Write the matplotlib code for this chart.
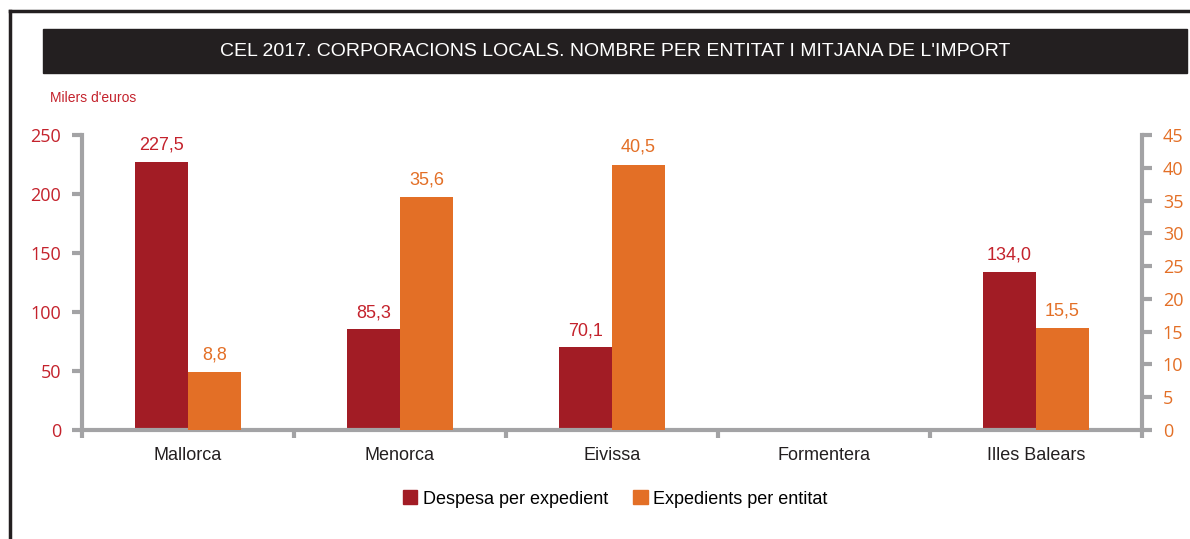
import numpy as np
import matplotlib
matplotlib.use("Agg")
from matplotlib import pyplot as plt
from matplotlib.patches import Rectangle
from matplotlib.lines import Line2D

categories = ["Mallorca", "Menorca", "Eivissa", "Formentera", "Illes Balears"]
despesa = [227.5, 85.3, 70.1, np.nan, 134.0]
expedients = [8.8, 35.6, 40.5, np.nan, 15.5]

RED = "#a21c25"
ORANGE = "#e36f26"
RED_TXT = "#c4222c"
GRAY = "#a3a3a5"
NARROW = ["Liberation Sans Narrow", "Liberation Sans", "DejaVu Sans"]
TICKF = ["Open Sans", "DejaVu Sans"]


def fmt(v):
    return ("%.1f" % v).replace(".", ",")


fig = plt.figure(figsize=(11.9, 5.39), dpi=100)

# frame lines
fig.add_artist(Line2D([9.5 / 1190, 9.5 / 1190], [0, 1 - 10.5 / 539], transform=fig.transFigure,
                      color="#231f20", lw=2.5))
fig.add_artist(Line2D([9.5 / 1190, 1], [1 - 10.5 / 539, 1 - 10.5 / 539], transform=fig.transFigure,
                      color="#231f20", lw=2.5))

# title bar
fig.add_artist(Rectangle((43 / 1190, 1 - 73 / 539), (1187 - 43) / 1190, 44 / 539,
                         transform=fig.transFigure, color="#231f20"))
fig.text(0.517, 1 - 51 / 539, "CEL 2017. CORPORACIONS LOCALS. NOMBRE PER ENTITAT I MITJANA DE L'IMPORT",
         color="white", fontsize=14, ha="center", va="center", family=NARROW)
fig.text(50 / 1190, 1 - 98 / 539, "Milers d'euros", color=RED_TXT, fontsize=10,
         ha="left", va="center", family=NARROW)

ax = fig.add_axes([82 / 1190, 1 - 430 / 539, (1142 - 82) / 1190, (430 - 135) / 539])
ax2 = ax.twinx()

x = np.arange(len(categories))
w = 0.25
ax.bar(x - w / 2, despesa, width=w, color=RED, zorder=2)
ax2.bar(x + w / 2, expedients, width=w, color=ORANGE, zorder=2)

for xi, v in zip(x, despesa):
    if not np.isnan(v):
        ax.text(xi - w / 2, v + 7, fmt(v), color=RED_TXT, ha="center", va="bottom",
                fontsize=13, family=NARROW)
for xi, v in zip(x, expedients):
    if not np.isnan(v):
        ax2.text(xi + w / 2, v + 1.3, fmt(v), color=ORANGE, ha="center", va="bottom",
                 fontsize=13, family=NARROW)

ax.set_xlim(-0.5, len(categories) - 0.5)
ax.set_ylim(0, 250)
ax2.set_ylim(0, 45)
ax.set_yticks(np.arange(0, 251, 50))
ax2.set_yticks(np.arange(0, 46, 5))
ax.set_xticks(x)
ax.set_xticklabels(categories, fontsize=13, family=NARROW, color="#231f20")
ax.set_xticks(np.arange(-0.5, len(categories), 1), minor=True)

for a in (ax, ax2):
    a.spines["top"].set_visible(False)
    for s in ("left", "right", "bottom"):
        a.spines[s].set_color(GRAY)
        a.spines[s].set_linewidth(3)
ax.spines["right"].set_visible(False)
ax2.spines["left"].set_visible(False)
ax2.spines["bottom"].set_visible(False)

ax.tick_params(axis="x", which="major", length=0, pad=12)
ax.tick_params(axis="x", which="minor", length=6, width=3, color=GRAY)
ax.tick_params(axis="y", length=7, width=3, color=GRAY, labelcolor=RED_TXT, labelsize=13, pad=8)
ax2.tick_params(axis="y", length=7, width=3, color=GRAY, labelcolor=ORANGE, labelsize=13, pad=8)
for lab in ax.get_yticklabels() + ax2.get_yticklabels():
    lab.set_family(TICKF)

handles = [Rectangle((0, 0), 1, 1, color=RED), Rectangle((0, 0), 1, 1, color=ORANGE)]
fig.legend(handles, ["Despesa per expedient", "Expedients per entitat"], loc="center",
           bbox_to_anchor=(0.517, 1 - 499 / 539), ncol=2, frameon=False,
           prop={"family": NARROW, "size": 13}, handlelength=0.8, handleheight=0.8,
           handletextpad=0.3, columnspacing=1.4)

fig.savefig("out.png", dpi=100)
